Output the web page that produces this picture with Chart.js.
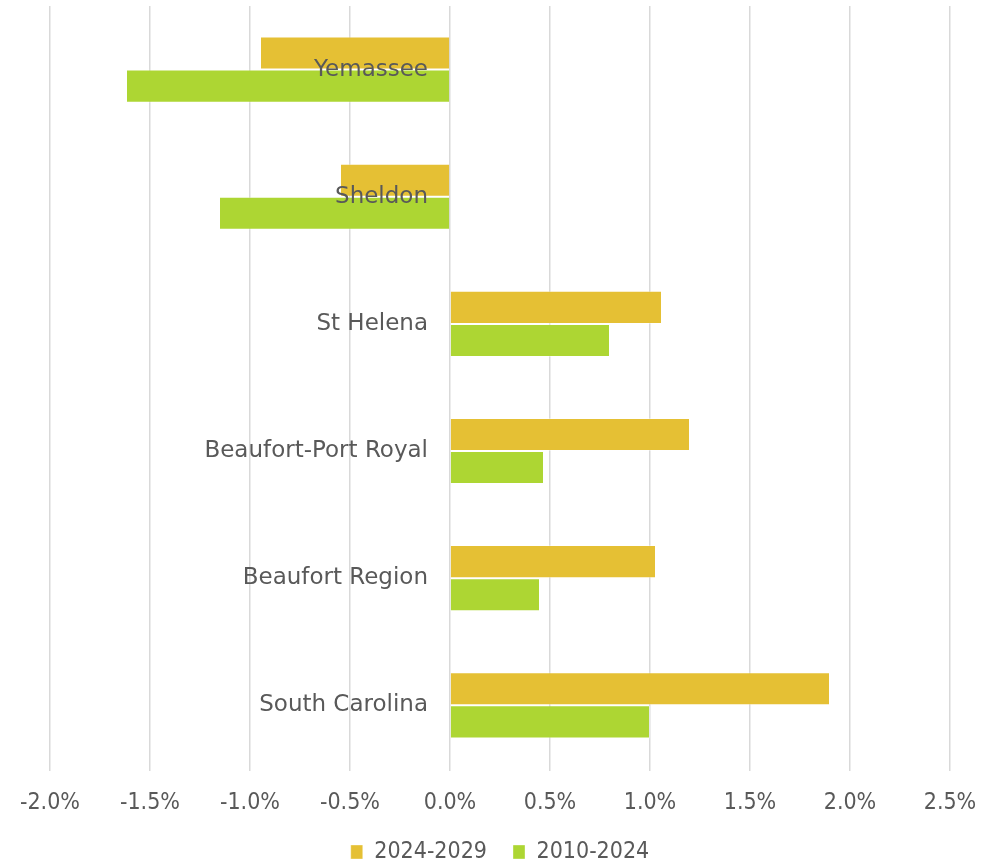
<!DOCTYPE html>
<html>
<head>
<meta charset="utf-8">
<script src="https://cdn.jsdelivr.net/npm/chart.js@4/dist/chart.umd.min.js"></script>
<style>
  html, body { margin: 0; padding: 0; background: #fff; }
  #wrap { width: 1002px; height: 864px; }
</style>
</head>
<body>
<div id="wrap"><canvas id="growthChart"></canvas></div>
<script>
// areas, top to bottom
const areas = ['Yemassee', 'Sheldon', 'St Helena', 'Beaufort-Port Royal', 'Beaufort Region', 'South Carolina'];
// annual growth rate, %
const growth2024_2029 = [-0.95, -0.55, 1.06, 1.20, 1.03, 1.90];
const growth2010_2024 = [-1.62, -1.155, 0.80, 0.47, 0.45, 1.00];
const xTicks = [-2.0, -1.5, -1.0, -0.5, 0.0, 0.5, 1.0, 1.5, 2.0, 2.5];

const textColor = '#595959';
const narrowFont = "'DejaVu Sans Condensed', 'Liberation Sans Narrow', 'DejaVu Sans', sans-serif";

const ctx = document.getElementById('growthChart').getContext('2d');
const chart = new Chart(ctx, {
  type: 'bar',
  data: {
    labels: areas,
    datasets: [{
      label: '2024-2029',
      data: growth2024_2029,
      backgroundColor: '#E5C034',
      borderColor: 'rgba(255,255,255,0.35)',
      borderWidth: 1,
      categoryPercentage: 0.52,
      barPercentage: 1.0
    }, {
      label: '2010-2024',
      data: growth2010_2024,
      backgroundColor: '#ADD633',
      borderColor: 'rgba(255,255,255,0.35)',
      borderWidth: 1,
      categoryPercentage: 0.52,
      barPercentage: 1.0
    }]
  },
  options: {
    indexAxis: 'y',
    responsive: true,
    maintainAspectRatio: false,
    animation: false,
    layout: { padding: { left: 50, right: 52, top: 6, bottom: -9.5 } },
    plugins: {
      tooltip: { enabled: false },
      legend: {
        position: 'bottom',
        labels: {
          boxWidth: 12,
          boxHeight: 14,
          padding: 26,
          color: textColor,
          font: { family: narrowFont, size: 23 }
        }
      }
    },
    scales: {
      x: {
        min: -2.0,
        max: 2.5,
        afterBuildTicks: (scale) => { scale.ticks = xTicks.map(v => ({ value: v })); },
        afterFit: (scale) => { scale.height -= 20; },
        grid: { color: '#d9d9d9', lineWidth: 1.5, drawTicks: true, tickLength: 2 },
        border: { display: false },
        ticks: {
          padding: 18,
          color: textColor,
          font: { family: narrowFont, size: 23 },
          callback: (v) => Number(v).toFixed(1) + '%'
        }
      },
      y: {
        // labels sit just left of the zero line, as in the original
        position: { x: -0.11 },
        afterFit: (scale) => { scale.paddingTop = 0; scale.paddingBottom = 0; },
        grid: { display: false, drawTicks: false },
        border: { display: false },
        ticks: {
          z: 1,
          padding: 0,
          color: textColor,
          font: { family: "'DejaVu Sans', sans-serif", size: 23 }
        }
      }
    }
  }
});
</script>
</body>
</html>
